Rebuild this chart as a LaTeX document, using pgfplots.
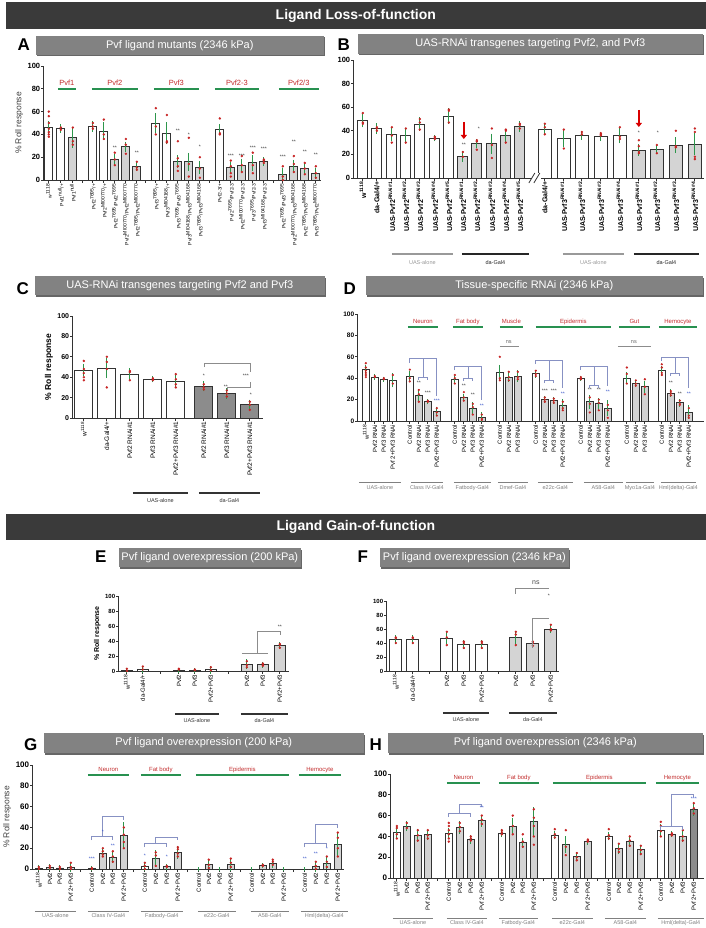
\documentclass[border=0pt]{standalone}
\usepackage{fontspec}
\setmainfont{Liberation Sans}
\usepackage{pgfplots}
\usepackage{pgfplotstable}
\pgfplotsset{compat=1.18}
\usetikzlibrary{arrows.meta}
\definecolor{errg}{RGB}{45,150,75}
\definecolor{dotr}{RGB}{200,35,35}
\definecolor{hdr}{RGB}{58,58,58}
\definecolor{tbox}{RGB}{130,130,130}
\definecolor{grplab}{RGB}{195,45,45}
\definecolor{grpline}{RGB}{40,145,80}
\definecolor{brk}{RGB}{135,145,195}
\definecolor{starb}{RGB}{50,80,200}
\newcommand\fs[1]{\fontsize{#1}{#1}\selectfont}

\pgfplotsset{
  panel/.style={scale only axis, anchor=south west, axis lines=left,
    axis line style={-, line width=1pt, black!80},
    ymin=0, ymax=100, ytick={0,20,40,60,80,100}, enlargelimits=false, clip=false,
    tick style={black!80, line width=0.8pt}, major tick length=2.5pt, tick align=outside,
    /pgf/number format/assume math mode=true,
    yticklabel style={font=\fs{7}\bfseries, inner sep=1pt},
    xticklabel style={rotate=90, anchor=east, inner sep=1pt, font=\fs{5}},
    ylabel style={font=\fs{8}}},
  bw/.style={ybar, bar shift=0pt, fill=white, draw=black!80, line width=0.9pt},
  bg/.style={bw, fill=black!17},
  bd/.style={bw, fill=black!45},
  eb/.style={draw=none, mark=none, forget plot,
    error bars/y dir=both, error bars/y explicit,
    error bars/error bar style={draw=errg, line width=0.8pt},
    error bars/error mark options={draw=errg, mark size=2pt, line width=0.8pt}},
  ebs/.style={eb, error bars/error mark options={draw=errg, mark size=1.6pt, line width=0.7pt}},
  dt/.style={only marks, mark=*, mark size=1pt, color=dotr, forget plot},
}

% ---- panel A
\pgfplotstableread[row sep=\\]{x y e\\ 43 46 4\\ 55 45 2\\ 87 47 3\\ 98 43 6\\ 150 50 7\\ 161 41 8\\ 214 44 3\\}\Aw
\pgfplotstableread[row sep=\\]{x y e\\ 67 37 7\\ 109 18 3\\ 120 29 3\\ 131 12 2\\ 172 16 4\\ 183 16 6\\ 194 11 4\\ 225 11 3\\ 236 13 4\\ 247 15 5\\ 258 16 2\\ 277 5 4\\ 288 12 4\\ 299 10 3\\ 310 6 3\\}\Ag
\pgfplotstableread[row sep=\\]{x y\\ 43 60\\43 56\\43 50\\43 45\\43 42\\43 40\\43 38\\55 46\\55 44\\67 46\\67 34\\67 31\\87 50\\87 47\\87 45\\98 53\\98 40\\98 36\\109 24\\109 18\\109 13\\120 36\\120 31\\120 23\\131 16\\131 11\\131 9\\150 63\\150 47\\150 40\\161 57\\161 34\\161 33\\172 34\\172 19\\172 12\\172 8\\183 37\\183 14\\183 3\\194 20\\194 10\\194 2\\214 54\\214 41\\214 40\\225 17\\225 12\\225 6\\225 3\\236 21\\236 13\\236 7\\247 24\\247 13\\247 6\\258 18\\258 17\\258 15\\277 12\\277 3\\277 0\\288 21\\288 14\\288 7\\299 15\\299 10\\299 5\\310 12\\310 6\\310 2\\}\Ap

% ---- panel B
\pgfplotstableread[row sep=\\]{x y e\\ 357 48.6 4\\ 371 41.8 3\\ 386 37.3 4\\ 400 36 5\\ 414 45.8 4\\ 429 33.9 1\\ 443 52.5 5\\}\Bwa
\pgfplotstableread[row sep=\\]{x y e\\ 457 18.6 3\\ 471 29 2\\ 486 29 7\\ 500 36 4\\ 514 43.5 3\\}\Bga
\pgfplotstableread[row sep=\\]{x y e\\ 539 41 3\\ 558 33.9 6\\ 576 36 2\\ 595 35 2\\ 614 36 5\\}\Bwb
\pgfplotstableread[row sep=\\]{x y e\\ 633 23.7 3\\ 651 23.9 2\\ 670 27.7 5\\ 689 28.8 8\\}\Bgb
\pgfplotstableread[row sep=\\]{x y\\ 357 55\\357 47\\357 46\\371 43\\371 42\\371 40\\386 43\\386 36\\386 30\\400 42\\400 30\\414 50\\414 47\\414 41\\429 35\\429 34\\429 33\\443 58\\443 57\\443 47\\457 22\\457 18\\471 32\\471 31\\471 24\\486 42\\486 28\\486 17\\500 41\\500 40\\500 30\\514 46\\514 45\\514 42\\539 46\\539 43\\539 37\\558 41\\558 25\\576 39\\576 37\\595 38\\595 37\\595 36\\614 43\\614 35\\614 33\\633 32\\633 27\\633 22\\633 21\\651 28\\651 21\\670 40\\670 27\\670 26\\689 42\\689 39\\689 18\\689 16\\}\Bp

% ---- panel C
\pgfplotstableread[row sep=\\]{x y e\\ 78 47 4\\ 101 49 8\\ 124 43 4\\ 147 38 1\\ 170 36 4\\}\Cw
\pgfplotstableread[row sep=\\]{x y e\\ 198 31 3\\ 221 24 3\\ 244 13 3\\}\Ck
\pgfplotstableread[row sep=\\]{x y\\ 78 56\\78 48\\78 44\\78 40\\78 37\\101 60\\101 55\\101 48\\101 30\\124 46\\124 45\\124 37\\147 39\\147 38\\147 37\\170 43\\170 38\\170 33\\170 30\\198 33\\198 30\\198 28\\221 27\\221 24\\221 21\\244 16\\244 13\\244 8\\}\Cp

% ---- panel D
\pgfplotstableread[row sep=\\]{x y e\\ 360 48 3\\ 369 41 1\\ 378 39 1\\ 387 38 5\\ 404 42 3\\ 449 39 2\\ 494 45 6\\ 530 44 2\\ 575 40 1\\ 621 40 4\\ 656 47 3\\}\Dw
\pgfplotstableread[row sep=\\]{x y e\\ 413 24 4\\ 422 18 1\\ 431 9 3\\ 458 22 2\\ 467 12 4\\ 476 3.5 3\\ 503 41 3\\ 512 42 4\\ 539 20 2\\ 548 19 2\\ 557 15 4\\ 584 18 5\\ 593 16 4\\ 602 12 6\\ 630 35 2\\ 639 32 4\\ 665 26 2\\ 674 17 2\\ 683 8 5\\}\Dg
\pgfplotstableread[row sep=\\]{x y\\ 360 54\\360 50\\360 47\\360 45\\360 43\\360 41\\369 42\\369 41\\378 40\\378 39\\387 43\\387 35\\404 48\\404 40\\404 37\\413 29\\413 25\\413 18\\422 19\\422 18\\431 12\\431 8\\431 5\\449 43\\449 40\\449 35\\458 27\\458 22\\458 19\\467 16\\467 13\\467 6\\476 6\\476 2\\476 1\\494 60\\494 40\\494 38\\503 46\\503 41\\503 38\\512 46\\512 41\\512 39\\530 47\\530 44\\530 42\\539 22\\539 20\\539 18\\548 21\\548 19\\548 17\\557 18\\557 12\\557 10\\575 41\\575 40\\575 39\\584 22\\584 16\\584 8\\593 20\\593 17\\593 10\\602 15\\602 10\\602 3\\621 50\\621 44\\621 35\\630 38\\630 35\\630 33\\639 39\\639 32\\639 25\\656 53\\656 50\\656 45\\656 43\\665 28\\665 26\\665 24\\674 19\\674 16\\674 15\\683 12\\683 5\\683 3\\}\Dp

% ---- panel E
\pgfplotstableread[row sep=\\]{x y e\\ 121 0.5 0.5\\ 137 2 1.5\\ 173 1 0.8\\ 189 0.5 0.5\\ 205 1.5 2.5\\}\Ew
\pgfplotstableread[row sep=\\]{x y e\\ 241 9 4\\ 257 8.5 1.5\\ 274 34 2\\}\Eg
\pgfplotstableread[row sep=\\]{x y\\ 121 3\\121 0\\137 6\\137 2\\173 3\\173 2\\189 2\\189 1\\205 5\\205 1\\241 13\\241 8\\241 5\\257 10\\257 8\\257 7\\274 36\\274 35\\274 31\\}\Ep

% ---- panel F
\pgfplotstableread[row sep=\\]{x y e\\ 390 45 3\\ 407 45 3\\ 441 47 6\\ 458 38 3\\ 476 38 3\\}\Fw
\pgfplotstableread[row sep=\\]{x y e\\ 510 48 7\\ 527 39 2\\ 545 60 3\\}\Fg
\pgfplotstableread[row sep=\\]{x y\\ 390 48\\390 47\\390 40\\407 48\\407 47\\407 40\\441 56\\441 48\\441 37\\458 42\\458 40\\458 33\\476 42\\476 40\\476 33\\510 56\\510 52\\510 37\\527 42\\527 40\\527 36\\545 66\\545 60\\545 58\\}\Fp

% ---- panel G
\pgfplotstableread[row sep=\\]{x y e\\ 33 1 1\\ 86 0.5 0.5\\ 139 2 2\\ 193 0 0\\ 246 0 0\\ 299 0 0\\}\Gw
\pgfplotstableread[row sep=\\]{x y e\\ 44 1.5 1\\ 54 1 1\\ 65 1.5 2\\ 97 15 2\\ 107 11 3\\ 118 32 11\\ 150 10 6\\ 161 2 1\\ 172 16 4\\ 203 4.5 3\\ 214 0 0\\ 225 4 4\\ 257 3 0.5\\ 267 5 2\\ 278 0 0\\ 310 2 3\\ 321 5.5 4\\ 332 24 10\\}\Gg
\pgfplotstableread[row sep=\\]{x y\\ 33 2\\33 0\\44 3\\44 1\\54 2\\54 0\\65 6\\65 2\\65 0\\86 1\\86 0\\97 20\\97 17\\97 14\\97 12\\107 17\\107 12\\107 7\\118 40\\118 33\\118 26\\118 20\\139 6\\139 3\\139 0\\150 16\\150 13\\150 3\\161 3\\161 2\\172 21\\172 19\\172 15\\172 12\\203 9\\203 4\\203 1\\225 10\\225 6\\225 2\\257 4\\257 3\\267 9\\267 7\\267 4\\310 7\\310 3\\310 0\\321 12\\321 7\\321 2\\332 35\\332 30\\332 20\\332 12\\}\Gp

% ---- panel H
\pgfplotstableread[row sep=\\]{x y e\\ 391 44 4\\ 443 43 3\\ 496 43 2\\ 549 41 2\\ 603 40 2\\ 655 46 4\\}\Hw
\pgfplotstableread[row sep=\\]{x y e\\ 401 50 3\\ 412 41 4\\ 422 41.5 3\\ 454 48.5 4\\ 465 37 2\\ 476 55 4\\ 507 50 6\\ 517 34 3\\ 528 54 12\\ 560 32 6\\ 571 21 2\\ 582 35 1\\ 613 28 3\\ 624 35 3\\ 635 27 3\\ 666 42 1\\ 677 40 3\\}\Hg
\pgfplotstableread[row sep=\\]{x y e\\ 688 66 4\\}\Hk
\pgfplotstableread[row sep=\\]{x y\\ 391 50\\391 48\\391 42\\391 38\\401 53\\401 48\\412 46\\412 41\\412 36\\422 46\\422 41\\422 38\\443 53\\443 50\\443 46\\443 42\\443 38\\443 35\\454 53\\454 49\\454 45\\465 40\\465 38\\465 36\\476 60\\476 56\\476 52\\496 46\\496 44\\496 42\\507 60\\507 50\\507 42\\517 42\\517 35\\517 30\\528 66\\528 58\\528 50\\528 40\\528 32\\549 47\\549 42\\549 39\\560 46\\560 30\\560 22\\571 24\\571 20\\571 17\\582 37\\582 36\\582 35\\603 47\\603 41\\603 38\\613 33\\613 28\\613 25\\624 40\\624 36\\624 31\\635 31\\635 27\\635 23\\655 54\\655 50\\655 45\\655 40\\666 43\\666 42\\666 41\\677 46\\677 40\\677 36\\688 72\\688 67\\688 62\\}\Hp

% decoration helpers (used inside a scope with x=1pt, y=-1pt)
\newcommand\gup[5]{\draw[grpline, line width=1.1pt] (#1,#3) -- (#2,#3);
  \node[grplab, font=\fs{#5}, anchor=base, inner sep=0pt] at ({(#1+#2)/2},{#3-3.5}) {#4};}
\newcommand\gdn[7]{\draw[#5, line width=#6] (#1,#3) -- (#2,#3);
  \node[#5, font=\fs{5.5}, anchor=north, inner sep=0pt] at ({(#1+#2)/2},{#3+#7}) {#4};}
\newcommand\st[4][black!80]{\node[#1, font=\fs{5}, inner sep=0pt] at (#2,#3) {#4};}
\newcommand\tb[5]{\fill[black!60] (#1+1.5,#2+1.5) rectangle (#3+1.5,#4+1.5);
  \fill[tbox] (#1,#2) rectangle (#3,#4);
  \node[white, font=\fs{11}, inner sep=0pt] at ({(#1+#3)/2},{(#2+#4)/2}) {#5};}
\newcommand\pl[3]{\node[font=\fs{17}\bfseries, inner sep=0pt] at (#1,#2) {#3};}

\begin{document}
\begin{tikzpicture}
\begin{scope}[x=1pt,y=-1pt]
\path[use as bounding box, fill=white] (0,0) rectangle (700,928);
\end{scope}

% ================= A
\begin{axis}[panel, at={(38pt,-180pt)}, width=277pt, height=114pt, xmin=38, xmax=315,
  yticklabel style={font=\fs{7.5}\bfseries},
  ylabel={\% Roll response}, ylabel style={font=\fs{8.5}, text=black!75},
  extra x ticks={77,140,204,268}, extra x tick labels={},
  xtick={43,55,67,87,98,109,120,131,150,161,172,183,194,214,225,236,247,258,277,288,299,310},
  xticklabels={w\textsuperscript{1118}, Pvf1\textsuperscript{null}/+, Pvf1\textsuperscript{null},
   Pvf2\textsuperscript{7695}/+, Pvf2\textsuperscript{MI00770}/+, Pvf2\textsuperscript{7695}/Pvf2\textsuperscript{7695},
   Pvf2\textsuperscript{MI00770}/Pvf2\textsuperscript{MI00770}, Pvf2\textsuperscript{7695}/Pvf2\textsuperscript{MI00770},
   Pvf3\textsuperscript{7695}/+, Pvf3\textsuperscript{MI04168}/+, Pvf3\textsuperscript{7695}/Pvf3\textsuperscript{7695},
   Pvf3\textsuperscript{MI04168}/Pvf3\textsuperscript{MI04168}, Pvf3\textsuperscript{7695}/Pvf3\textsuperscript{MI04168},
   Pvf2-3/+, Pvf2\textsuperscript{7695}/Pvf2-3, Pvf2\textsuperscript{MI00770}/Pvf2-3, Pvf3\textsuperscript{7695}/Pvf2-3,
   Pvf3\textsuperscript{MI04168}/Pvf2-3, Pvf2\textsuperscript{7695}/Pvf3\textsuperscript{7695},
   Pvf2\textsuperscript{MI00770}/Pvf3\textsuperscript{MI04168}, Pvf2\textsuperscript{7695}/Pvf3\textsuperscript{MI04168},
   Pvf3\textsuperscript{7695}/Pvf2\textsuperscript{MI00770}}]
\addplot[bw, bar width=8pt] table {\Aw};
\addplot[bg, bar width=8pt] table {\Ag};
\addplot[dt] table {\Ap};
\addplot[eb] table[y error=e] {\Aw};
\addplot[eb] table[y error=e] {\Ag};
\end{axis}

% ================= B
\begin{axis}[panel, at={(348pt,-178pt)}, width=350pt, height=118pt, xmin=348, xmax=698,
  yticklabel style={font=\fs{7.5}\bfseries},
  xticklabel style={font=\fs{7}\bfseries},
  xtick={357,371,386,400,414,429,443,457,471,486,500,514,539,558,576,595,614,633,651,670,689},
  xticklabels={w\textsuperscript{1118}, da-Gal4/+,
   UAS-Pvf2\textsuperscript{RNAi\#1}, UAS-Pvf2\textsuperscript{RNAi\#2}, UAS-Pvf2\textsuperscript{RNAi\#3}, UAS-Pvf2\textsuperscript{RNAi\#4}, UAS-Pvf2\textsuperscript{RNAi\#5},
   UAS-Pvf2\textsuperscript{RNAi\#1}, UAS-Pvf2\textsuperscript{RNAi\#2}, UAS-Pvf2\textsuperscript{RNAi\#3}, UAS-Pvf2\textsuperscript{RNAi\#4}, UAS-Pvf2\textsuperscript{RNAi\#5},
   da-Gal4/+,
   UAS-Pvf3\textsuperscript{RNAi\#1}, UAS-Pvf3\textsuperscript{RNAi\#2}, UAS-Pvf3\textsuperscript{RNAi\#3}, UAS-Pvf3\textsuperscript{RNAi\#4},
   UAS-Pvf3\textsuperscript{RNAi\#1}, UAS-Pvf3\textsuperscript{RNAi\#2}, UAS-Pvf3\textsuperscript{RNAi\#3}, UAS-Pvf3\textsuperscript{RNAi\#4}}]
\addplot[bw, bar width=10pt] table {\Bwa};
\addplot[bg, bar width=10pt] table {\Bga};
\addplot[bw, bar width=13pt] table {\Bwb};
\addplot[bg, bar width=13pt] table {\Bgb};
\addplot[dt] table {\Bp};
\addplot[eb] table[y error=e] {\Bwa};
\addplot[eb] table[y error=e] {\Bga};
\addplot[eb] table[y error=e] {\Bwb};
\addplot[eb] table[y error=e] {\Bgb};
\end{axis}

% ================= C
\begin{axis}[panel, at={(67pt,-418pt)}, width=190pt, height=102pt, xmin=67, xmax=257,
  ylabel={\% Roll response}, ylabel style={font=\fs{8.5}\bfseries},
  xticklabel style={font=\fs{6.5}},
  xtick={78,101,124,147,170,198,221,244},
  xticklabels={w\textsuperscript{1118}, da-Gal4/+, Pvf2 RNAi\#1, Pvf3 RNAi\#1, Pvf2+Pvf3 RNAi\#1,
   Pvf2 RNAi\#1, Pvf3 RNAi\#1, Pvf2+Pvf3 RNAi\#1}]
\addplot[bw, bar width=18pt] table {\Cw};
\addplot[bd, bar width=18pt] table {\Ck};
\addplot[dt] table {\Cp};
\addplot[eb] table[y error=e] {\Cw};
\addplot[eb] table[y error=e] {\Ck};
\end{axis}

% ================= D
\begin{axis}[panel, at={(352pt,-421pt)}, width=346pt, height=107pt, xmin=352, xmax=698,
  yticklabel style={font=\fs{6.5}\bfseries},
  xticklabel style={font=\fs{6}},
  xtick={360,369,378,387,404,413,422,431,449,458,467,476,494,503,512,530,539,548,557,575,584,593,602,621,630,639,656,665,674,683},
  xticklabels={w\textsuperscript{1118}, Pvf2 RNAi, Pvf3 RNAi, Pvf 2+Pvf3 RNAi,
   Control, Pvf2 RNAi, Pvf3 RNAi, Pvf2+Pvf3 RNAi,
   Control, Pvf2 RNAi, Pvf3 RNAi, Pvf2+Pvf3 RNAi,
   Control, Pvf2 RNAi, Pvf3 RNAi,
   Control, Pvf2 RNAi, Pvf3 RNAi, Pvf2+Pvf3 RNAi,
   Control, Pvf2 RNAi, Pvf3 RNAi, Pvf2+Pvf3 RNAi,
   Control, Pvf2 RNAi, Pvf3 RNAi,
   Control, Pvf2 RNAi, Pvf3 RNAi, Pvf2+Pvf3 RNAi}]
\addplot[bw, bar width=6.5pt] table {\Dw};
\addplot[bg, bar width=6.5pt] table {\Dg};
\addplot[dt, mark size=0.9pt] table {\Dp};
\addplot[ebs] table[y error=e] {\Dw};
\addplot[ebs] table[y error=e] {\Dg};
\end{axis}

% ================= E
\begin{axis}[panel, at={(113pt,-671pt)}, width=170pt, height=75pt, xmin=113, xmax=283,
  yticklabel style={font=\fs{6}\bfseries},
  ylabel={\% Roll response}, ylabel style={font=\fs{7}\bfseries},
  xticklabel style={font=\fs{6}},
  extra x ticks={155,223}, extra x tick labels={},
  xtick={121,137,173,189,205,241,257,274},
  xticklabels={w\textsuperscript{1118}, da-Gal4/+, Pvf2, Pvf3, Pvf2+Pvf3, Pvf2, Pvf3, Pvf2+Pvf3}]
\addplot[bw, bar width=11pt] table {\Ew};
\addplot[bg, bar width=11pt] table {\Eg};
\addplot[dt] table {\Ep};
\addplot[eb] table[y error=e] {\Ew};
\addplot[eb] table[y error=e] {\Eg};
\end{axis}

% ================= F
\begin{axis}[panel, at={(381pt,-671pt)}, width=172pt, height=70pt, xmin=381, xmax=553,
  yticklabel style={font=\fs{6}\bfseries},
  xticklabel style={font=\fs{6}},
  extra x ticks={424,493}, extra x tick labels={},
  xtick={390,407,441,458,476,510,527,545},
  xticklabels={w\textsuperscript{1118}, da-Gal4/+, Pvf2, Pvf3, Pvf2+Pvf3, Pvf2, Pvf3, Pvf2+Pvf3}]
\addplot[bw, bar width=12pt] table {\Fw};
\addplot[bg, bar width=12pt] table {\Fg};
\addplot[dt] table {\Fp};
\addplot[eb] table[y error=e] {\Fw};
\addplot[eb] table[y error=e] {\Fg};
\end{axis}

% ================= G
\begin{axis}[panel, at={(27pt,-869pt)}, width=311pt, height=104pt, xmin=27, xmax=338,
  yticklabel style={font=\fs{8}\bfseries},
  ylabel={\% Roll response}, ylabel style={font=\fs{8.5}, text=black!75},
  xticklabel style={font=\fs{6}},
  extra x ticks={75,128,182,235,288}, extra x tick labels={},
  xtick={33,44,54,65,86,97,107,118,139,150,161,172,193,203,214,225,246,257,267,278,299,310,321,332},
  xticklabels={w\textsuperscript{1118}, Pvf2, Pvf3, Pvf 2+Pvf3,
   Control, Pvf2, Pvf3, Pvf 2+Pvf3, Control, Pvf2, Pvf3, Pvf 2+Pvf3,
   Control, Pvf2, Pvf3, Pvf 2+Pvf3, Control, Pvf2, Pvf3, Pvf 2+Pvf3,
   Control, Pvf2, Pvf3, Pvf 2+Pvf3}]
\addplot[bw, bar width=7.5pt] table {\Gw};
\addplot[bg, bar width=7.5pt] table {\Gg};
\addplot[dt] table {\Gp};
\addplot[eb] table[y error=e] {\Gw};
\addplot[eb] table[y error=e] {\Gg};
\end{axis}

% ================= H
\begin{axis}[panel, at={(385pt,-878pt)}, width=313pt, height=104pt, xmin=385, xmax=698,
  yticklabel style={font=\fs{8}\bfseries},
  xticklabel style={font=\fs{6}},
  extra x ticks={432,486,538,592,645}, extra x tick labels={},
  xtick={391,401,412,422,443,454,465,476,496,507,517,528,549,560,571,582,603,613,624,635,655,666,677,688},
  xticklabels={w\textsuperscript{1118}, Pvf2, Pvf3, Pvf 2+Pvf3,
   Control, Pvf2, Pvf3, Pvf 2+Pvf3, Control, Pvf2, Pvf3, Pvf 2+Pvf3,
   Control, Pvf2, Pvf3, Pvf 2+Pvf3, Control, Pvf2, Pvf3, Pvf 2+Pvf3,
   Control, Pvf2, Pvf3, Pvf 2+Pvf3}]
\addplot[bw, bar width=7.5pt] table {\Hw};
\addplot[bg, bar width=7.5pt] table {\Hg};
\addplot[bd, bar width=7.5pt] table {\Hk};
\addplot[dt] table {\Hp};
\addplot[eb] table[y error=e] {\Hw};
\addplot[eb] table[y error=e] {\Hg};
\addplot[eb] table[y error=e] {\Hk};
\end{axis}

% ================= decorations
\begin{scope}[x=1pt,y=-1pt]
% section headers
\fill[hdr] (0,2) rectangle (700,29);
\node[white, font=\fs{14}\bfseries] at (350,15.5) {Ligand Loss-of-function};
\fill[hdr] (0,514) rectangle (700,540);
\node[white, font=\fs{14}\bfseries] at (350,527) {Ligand Gain-of-function};

% panel letters and title boxes
\pl{18}{45}{A} \tb{30}{36}{318}{55}{Pvf ligand mutants (2346 kPa)}
\pl{338}{45}{B} \tb{352}{34}{697}{54}{UAS-RNAi transgenes targeting Pvf2, and Pvf3}
\pl{17}{289}{C} \tb{29}{276}{319}{295}{UAS-RNAi transgenes targeting Pvf2 and Pvf3}
\pl{344}{289}{D} \tb{360}{276}{697}{295}{Tissue-specific RNAi (2346 kPa)}
\pl{95}{557}{E} \tb{113}{548}{295}{567}{Pvf ligand overexpression (200 kPa)}
\pl{357}{557}{F} \tb{374}{548}{563}{567}{Pvf ligand overexpression (2346 kPa)}
\pl{25}{745}{G} \tb{38}{733}{358}{753}{Pvf ligand overexpression (200 kPa)}
\pl{370}{745}{H} \tb{382}{733}{697}{753}{Pvf ligand overexpression (2346 kPa)}

% A
\gup{52}{70}{89}{Pvf1}{7.5} \gup{86}{132}{89}{Pvf2}{7.5} \gup{148}{193}{89}{Pvf3}{7.5}
\gup{209}{253}{89}{Pvf2-3}{7.5} \gup{273}{313}{89}{Pvf2/3}{7.5}
\st{109}{148}{**} \st{131}{153}{**} \st{172}{131}{**} \st{183}{135}{*} \st{194}{147}{*}
\st{225}{156}{***} \st{236}{156}{***} \st{247}{148}{***} \st{258}{149}{***}
\st{277}{157}{***} \st{288}{142}{**} \st{299}{152}{**} \st{310}{155}{**}

% B
\fill[white] (525,173) rectangle (535,183);
\draw[black!80, line width=0.8pt] (523,183)--(529,173) (528,183)--(534,173);
\draw[-{Triangle[width=6pt,length=4pt]}, red!85!black, line width=2.2pt] (458,122) -- (458,139);
\draw[-{Triangle[width=6pt,length=4pt]}, red!85!black, line width=2.2pt] (633,110) -- (633,127);
\st{458}{145}{**} \st{473}{129}{*} \st{633}{133}{*} \st{652}{133}{*}
\gdn{386}{447}{254}{UAS-alone}{black!40}{1.2pt}{6}
\gdn{456}{523}{254}{da-Gal4}{black!85}{1.2pt}{6}
\gdn{557}{618}{254}{UAS-alone}{black!40}{1.2pt}{6}
\gdn{628}{693}{254}{da-Gal4}{black!85}{1.2pt}{6}

% C
\draw[black!45, line width=0.6pt] (198,367)--(198,363)--(244,363)--(244,372);
\draw[black!45, line width=0.6pt] (221,390)--(221,387)--(244,387)--(244,382);
\st{240}{376}{***} \st{198}{376}{*} \st{220}{387}{**} \st{245}{395}{*}
\gdn{127}{182}{493}{UAS-alone}{black!80}{1.2pt}{5}
\gdn{193}{254}{493}{da-Gal4}{black!80}{1.2pt}{5}

% D
\gup{402}{432}{327}{Neuron}{6} \gup{447}{477}{327}{Fat body}{6} \gup{494}{517}{327}{Muscle}{6}
\gup{530}{605}{327}{Epidermis}{6} \gup{613}{644}{327}{Gut}{6} \gup{653}{691}{327}{Hemocyte}{6}
\draw[black!45, line width=0.6pt] (494,346)--(513,346) (612,346)--(645,346);
\node[black!60, font=\fs{5.5}] at (503,342) {ns}; \node[black!60, font=\fs{5.5}] at (628,342) {ns};
\begin{scope}[brk, line width=0.7pt]
\draw (404,363)--(404,358)--(431,358)--(431,396); \draw (417.5,358)--(417.5,377); \draw (413,380)--(413,377)--(422,377)--(422,380);
\draw (449,370)--(449,366)--(476,366)--(476,400); \draw (462.5,366)--(462.5,378); \draw (458,381)--(458,378)--(467,378)--(467,381);
\draw (530,364)--(530,360)--(557,360)--(557,388); \draw (543.5,360)--(543.5,380); \draw (539,383)--(539,380)--(548,380)--(548,383);
\draw (575,370)--(575,366)--(602,366)--(602,386); \draw (588.5,366)--(588.5,385); \draw (584,388)--(584,385)--(593,385)--(593,388);
\draw (656,361)--(656,357)--(683,357)--(683,388); \draw (669.5,357)--(669.5,373); \draw (665,376)--(665,373)--(674,373)--(674,376);
\end{scope}
\st{413}{383}{**} \st{422}{393}{***} \st[starb]{431}{401}{***}
\st{458}{386}{**} \st{467}{395}{**} \st[starb]{476}{406}{**}
\st{539}{391}{***} \st{548}{391}{***} \st[starb]{557}{394}{**}
\st{584}{390}{**} \st{593}{390}{**} \st[starb]{602}{392}{**}
\st{665}{383}{**} \st{674}{394}{**} \st[starb]{683}{394}{**}
\gdn{353}{395}{482}{UAS-alone}{black!50}{0.8pt}{3}
\gdn{405}{437}{482}{Class IV-Gal4}{black!50}{0.8pt}{3}
\gdn{448}{485}{482}{Fatbody-Gal4}{black!50}{0.8pt}{3}
\gdn{492}{522}{482}{Dmef-Gal4}{black!50}{0.8pt}{3}
\gdn{532}{567}{482}{e22c-Gal4}{black!50}{0.8pt}{3}
\gdn{578}{617}{482}{A58-Gal4}{black!50}{0.8pt}{3}
\gdn{620}{648}{482}{Myo1a-Gal4}{black!50}{0.8pt}{3}
\gdn{655}{690}{482}{Hml(delta)-Gal4}{black!50}{0.8pt}{3}

% E
\draw[black!45, line width=0.6pt] (236,653)--(262,653) (251,653)--(251,631)--(274,631)--(274,635);
\st{274}{627}{**}
\gdn{169}{213}{714}{UAS-alone}{black!80}{1.2pt}{4}
\gdn{235}{282}{714}{da-Gal4}{black!80}{1.2pt}{4}

% F
\draw[black!45, line width=0.6pt] (509,594)--(509,588)--(543,588);
\draw[black!45, line width=0.6pt] (526,648)--(526,618)--(543,618);
\node[black!70, font=\fs{7}] at (530,583) {ns};
\st{543}{596}{*}
\gdn{437}{483}{713}{UAS-alone}{black!80}{1.2pt}{4}
\gdn{503}{551}{713}{da-Gal4}{black!80}{1.2pt}{4}

% G
\gup{82}{123}{775}{Neuron}{6} \gup{135}{175}{775}{Fat body}{6}
\gup{190}{283}{775}{Epidermis}{6} \gup{293}{335}{775}{Hemocyte}{6}
\begin{scope}[brk, line width=0.7pt]
\draw (86,840)--(86,836)--(107,836)--(107,840); \draw (97,836)--(97,816)--(118,816)--(118,820);
\draw (139,847)--(139,843)--(161,843)--(161,847); \draw (150,843)--(150,837)--(172,837)--(172,840);
\draw (299,847)--(299,843)--(321,843)--(321,847); \draw (310,843)--(310,824)--(332,824)--(332,828);
\end{scope}
\st[starb]{86}{859}{***} \st[starb]{97}{832}{*} \st[starb]{107}{846}{**}
\st[starb]{139}{856}{*} \st[starb]{161}{857}{*}
\st[starb]{299}{859}{**} \st[starb]{310}{854}{**} \st[starb]{321}{849}{*}
\gdn{29}{70}{911}{UAS-alone}{black!50}{0.8pt}{2.5}
\gdn{82}{123}{911}{Class IV-Gal4}{black!50}{0.8pt}{2.5}
\gdn{135}{177}{911}{Fatbody-Gal4}{black!50}{0.8pt}{2.5}
\gdn{192}{230}{911}{e22c-Gal4}{black!50}{0.8pt}{2.5}
\gdn{245}{283}{911}{A58-Gal4}{black!50}{0.8pt}{2.5}
\gdn{295}{342}{911}{Hml(delta)-Gal4}{black!50}{0.8pt}{2.5}

% H
\gup{441}{474}{783}{Neuron}{6} \gup{493}{533}{783}{Fat body}{6}
\gup{547}{640}{783}{Epidermis}{6} \gup{650}{693}{783}{Hemocyte}{6}
\begin{scope}[brk, line width=0.7pt]
\draw (443,817)--(443,813)--(465,813)--(465,817); \draw (454,813)--(454,804)--(476,804)--(476,807);
\draw (655,830)--(655,826)--(677,826)--(677,830); \draw (666,826)--(666,794)--(688,794)--(688,797);
\end{scope}
\st[starb]{476}{808}{**} \st[starb]{688}{799}{***}
\gdn{387}{427}{918}{UAS-alone}{black!50}{0.8pt}{2.5}
\gdn{441}{481}{918}{Class IV-Gal4}{black!50}{0.8pt}{2.5}
\gdn{493}{532}{918}{Fatbody-Gal4}{black!50}{0.8pt}{2.5}
\gdn{546}{587}{918}{e22c-Gal4}{black!50}{0.8pt}{2.5}
\gdn{599}{640}{918}{A58-Gal4}{black!50}{0.8pt}{2.5}
\gdn{652}{698}{918}{Hml(delta)-Gal4}{black!50}{0.8pt}{2.5}
\end{scope}
\end{tikzpicture}
\end{document}
